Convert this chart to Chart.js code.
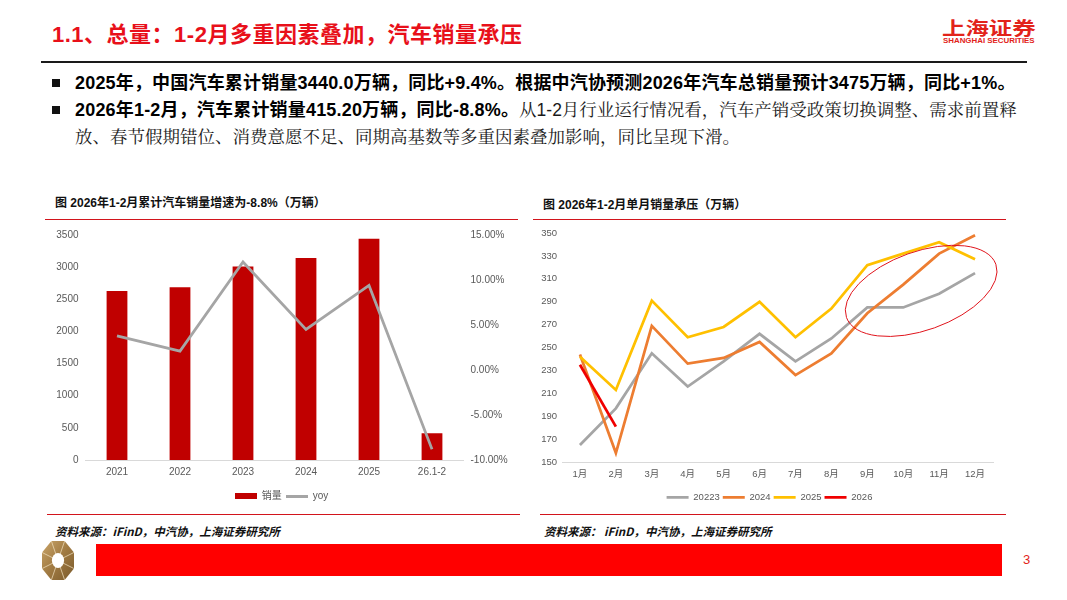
<!DOCTYPE html>
<html>
<head>
<meta charset="utf-8">
<script src="https://cdn.jsdelivr.net/npm/chart.js@4.4.1/dist/chart.umd.min.js"></script>
<style>
html,body{margin:0;padding:0;background:#fff;}
body{width:1067px;height:600px;position:relative;overflow:hidden;font-family:"Liberation Sans","Noto Sans CJK SC",sans-serif;}
.abs{position:absolute;white-space:nowrap;}
#title{left:52px;top:21px;font-size:22px;line-height:28px;font-weight:bold;color:#E8101A;letter-spacing:0.5px;}
#logo{left:942px;top:16px;font-size:18px;line-height:22px;font-weight:bold;color:#E2231A;transform:scaleX(1.3);transform-origin:0 0;font-family:"Noto Sans CJK SC",sans-serif;}
#logoEn{left:943px;top:36px;font-size:7.9px;line-height:9px;font-weight:bold;color:#E2231A;}
#topLine{left:41px;top:61px;width:986px;height:2px;background:#1a1a1a;}
.bullet{position:absolute;left:52px;width:8px;height:8px;background:#111;}
#body{left:75px;top:69.5px;font-size:17.5px;line-height:27px;color:#1a1a1a;font-family:"Liberation Sans","Noto Serif CJK SC","Noto Sans CJK SC",sans-serif;}
#body b{font-size:18px;letter-spacing:0.18px;font-family:"Liberation Sans","Noto Sans CJK SC",sans-serif;font-weight:bold;color:#000;}
.ctitle{position:absolute;font-size:12px;line-height:16px;font-weight:bold;color:#111;white-space:nowrap;font-family:"Liberation Sans","Noto Sans CJK SC",sans-serif;}
.redline{position:absolute;height:1.5px;background:#D2141C;}
.src{position:absolute;font-size:11.5px;line-height:14px;font-style:italic;font-weight:bold;color:#111;white-space:nowrap;font-family:"Noto Sans CJK SC",sans-serif;}
#footBar{left:96px;top:544px;width:906px;height:32px;background:#FF0000;}
#pageNo{left:1023px;top:552px;font-size:13px;line-height:16px;color:#E2231A;}
canvas{position:absolute;}
</style>
</head>
<body>
<div id="title" class="abs">1.1、总量：1-2月多重因素叠加，汽车销量承压</div>
<div id="logo" class="abs">上海证券</div>
<div id="logoEn" class="abs">SHANGHAI SECURITIES</div>
<div id="topLine" class="abs"></div>

<div class="bullet" style="top:79px"></div>
<div class="bullet" style="top:106px"></div>
<div id="body" class="abs"><b>2025年，中国汽车累计销量3440.0万辆，同比+9.4%。根据中汽协预测2026年汽车总销量预计3475万辆，同比+1%。</b><br><b>2026年1-2月，汽车累计销量415.20万辆，同比-8.8%。</b>从1-2月行业运行情况看，汽车产销受政策切换调整、需求前置释<br>放、春节假期错位、消费意愿不足、同期高基数等多重因素叠加影响，同比呈现下滑。</div>

<div class="ctitle" style="left:55px;top:195px;">图 2026年1-2月累计汽车销量增速为-8.8%（万辆）</div>
<div class="ctitle" style="left:543px;top:197px;">图 2026年1-2月单月销量承压（万辆）</div>
<div class="redline" style="left:45px;top:218.5px;width:473px;"></div>
<div class="redline" style="left:533px;top:218.5px;width:473px;"></div>

<canvas id="c1" width="473" height="289" style="left:45px;top:222px;width:473px;height:289px;"></canvas>
<canvas id="c2" width="473" height="290" style="left:533px;top:222px;width:473px;height:290px;"></canvas>

<div class="redline" style="left:47px;top:513.5px;width:473px;"></div>
<div class="redline" style="left:540px;top:513.5px;width:466px;"></div>
<div class="src" style="left:55px;top:523.5px;">资料来源：iFinD，中汽协，上海证券研究所</div>
<div class="src" style="left:544px;top:523.5px;">资料来源： iFinD，中汽协，上海证券研究所</div>

<svg class="abs" style="left:42px;top:540.5px;" width="32" height="39" viewBox="-50 -50 100 100" preserveAspectRatio="none">
  <defs>
    <linearGradient id="gold" x1="0" y1="0" x2="1" y2="1">
      <stop offset="0" stop-color="#C9A468"/>
      <stop offset="0.5" stop-color="#A07A42"/>
      <stop offset="1" stop-color="#7A5A2C"/>
    </linearGradient>
  </defs>
  <polygon points="50,20.7 20.7,50 -20.7,50 -50,20.7 -50,-20.7 -20.7,-50 20.7,-50 50,-20.7" fill="url(#gold)"/>
  <g stroke="#F3E3C2" stroke-width="2.5" opacity="0.8">
    <line x1="0" y1="0" x2="50" y2="20.7"/><line x1="0" y1="0" x2="20.7" y2="50"/>
    <line x1="0" y1="0" x2="-20.7" y2="50"/><line x1="0" y1="0" x2="-50" y2="20.7"/>
    <line x1="0" y1="0" x2="-50" y2="-20.7"/><line x1="0" y1="0" x2="-20.7" y2="-50"/>
    <line x1="0" y1="0" x2="20.7" y2="-50"/><line x1="0" y1="0" x2="50" y2="-20.7"/>
  </g>
  <circle cx="0" cy="0" r="19" fill="#fff"/>
</svg>
<div id="footBar" class="abs"></div>
<div id="pageNo" class="abs">3</div>

<script>
// ---------- data ----------
const yearLabels = ['2021', '2022', '2023', '2024', '2025', '26.1-2'];
const salesValues = [2627.5, 2686.4, 3009.4, 3143.6, 3440.0, 415.2];
const yoyValues = [3.8, 2.1, 12.0, 4.5, 9.4, -8.8];

const monthLabels = ['1月', '2月', '3月', '4月', '5月', '6月', '7月', '8月', '9月', '10月', '11月', '12月'];
const seriesNames = ['20223', '2024', '2025', '2026'];
const sales2023 = [165, 197, 245, 216, 238, 262, 238, 258, 285, 285, 297, 315];
const sales2024 = [244, 158, 269, 236, 241, 255, 226, 245, 280, 305, 332, 348];
const sales2025 = [242, 213, 291, 259, 268, 290, 259, 284, 322, 332, 342, 327];
const sales2026 = [235, 181];

const leftTicks = { min: 0, max: 3500, step: 500 };
const rightTicksPct = { min: -10, max: 15, step: 5 };
const monthTicks = { min: 150, max: 350, step: 20 };

// ---------- styles ----------
const FONT = "'Liberation Sans','Noto Sans CJK SC',sans-serif";
const TXT = '#595959';
Chart.defaults.font.family = FONT;
Chart.defaults.color = TXT;

function swatch(w, h, color) {
  const c = document.createElement('canvas');
  c.width = w; c.height = h;
  const g = c.getContext('2d');
  g.fillStyle = color; g.fillRect(0, 0, w, h);
  return c;
}
const barSwatch = swatch(22, 6, '#C00000');
const lineSwatch = swatch(22, 3, '#A5A5A5');

// ---------- chart 1 ----------
new Chart(document.getElementById('c1'), {
  data: {
    labels: yearLabels,
    datasets: [
      { type: 'bar', label: '销量', data: salesValues, backgroundColor: '#C00000',
        yAxisID: 'y', order: 2, categoryPercentage: 1, barPercentage: 0.33 },
      { type: 'line', label: 'yoy', data: yoyValues, borderColor: '#A5A5A5', backgroundColor: '#A5A5A5',
        borderWidth: 2.75, pointRadius: 0, tension: 0, yAxisID: 'y1', order: 1 }
    ]
  },
  options: {
    responsive: false, animation: false,
    layout: { padding: { top: 10, bottom: 0, left: 0, right: 0 } },
    scales: {
      x: {
        offset: true,
        grid: { display: false, drawTicks: false },
        border: { display: true, color: '#D9D9D9', width: 1 },
        ticks: { color: TXT, font: { size: 10 }, padding: 6, maxRotation: 0 },
        afterFit: s => { s.height = 27; }
      },
      y: {
        position: 'left', min: leftTicks.min, max: leftTicks.max,
        grid: { display: false, drawTicks: false }, border: { display: false },
        ticks: { stepSize: leftTicks.step, color: TXT, font: { size: 10 }, padding: 7,
                 callback: v => String(v) },
        afterFit: s => { s.width = 40.5; }
      },
      y1: {
        position: 'right', min: rightTicksPct.min, max: rightTicksPct.max,
        grid: { display: false, drawTicks: false }, border: { display: false },
        ticks: { stepSize: rightTicksPct.step, color: TXT, font: { size: 10 }, padding: 7,
                 callback: v => v.toFixed(2) + '%' },
        afterFit: s => { s.width = 54.5; }
      }
    },
    plugins: {
      tooltip: { enabled: false },
      legend: {
        position: 'bottom',
        labels: {
          usePointStyle: true, pointStyleWidth: 22, padding: 4, color: TXT, font: { size: 10 },
          sort: (a, b) => a.datasetIndex - b.datasetIndex,
          generateLabels: chart => {
            const items = Chart.defaults.plugins.legend.labels.generateLabels(chart);
            items.forEach(it => { it.pointStyle = it.datasetIndex === 0 ? barSwatch : lineSwatch; });
            return items;
          }
        }
      }
    }
  }
});

// ---------- chart 2 ----------
const highlight = { xIndex: 9.5, yValue: 299.5, rx: 79.3, ry: 39.3, rotationDeg: -19.6, color: '#E0141C', width: 1 };
const ellipsePlugin = {
  id: 'highlightEllipse',
  afterDatasetsDraw(chart) {
    const { ctx, scales } = chart;
    const cx = scales.x.getPixelForValue(highlight.xIndex);
    const cy = scales.y.getPixelForValue(highlight.yValue);
    ctx.save();
    ctx.beginPath();
    ctx.ellipse(cx, cy, highlight.rx, highlight.ry, highlight.rotationDeg * Math.PI / 180, 0, Math.PI * 2);
    ctx.strokeStyle = highlight.color;
    ctx.lineWidth = highlight.width;
    ctx.stroke();
    ctx.restore();
  }
};

const lineStyle = (label, data, color, order) => ({
  type: 'line', label, data, borderColor: color, backgroundColor: color,
  borderWidth: 2.75, pointRadius: 0, tension: 0, order
});

new Chart(document.getElementById('c2'), {
  data: {
    labels: monthLabels,
    datasets: [
      lineStyle(seriesNames[0], sales2023, '#A5A5A5', 4),
      lineStyle(seriesNames[1], sales2024, '#ED7D31', 3),
      lineStyle(seriesNames[2], sales2025, '#FFC000', 2),
      lineStyle(seriesNames[3], sales2026, '#F00000', 1)
    ]
  },
  options: {
    responsive: false, animation: false,
    layout: { padding: { top: 11, bottom: 0, left: 0, right: 0 } },
    scales: {
      x: {
        offset: true,
        grid: { display: false, drawTicks: false },
        border: { display: true, color: '#D9D9D9', width: 1 },
        ticks: { color: TXT, font: { size: 9.5 }, padding: 6, maxRotation: 0, autoSkip: false },
        afterFit: s => { s.height = 27.3; }
      },
      y: {
        position: 'left', min: monthTicks.min, max: monthTicks.max,
        grid: { display: false, drawTicks: false }, border: { display: false },
        ticks: { stepSize: monthTicks.step, color: TXT, font: { size: 9.5 }, padding: 5 },
        afterFit: s => { s.width = 29; }
      },
      yPad: {
        position: 'right', display: true,
        grid: { display: false, drawTicks: false }, border: { display: false },
        ticks: { display: false },
        afterFit: s => { s.width = 13; }
      }
    },
    plugins: {
      tooltip: { enabled: false },
      legend: {
        position: 'bottom',
        labels: {
          usePointStyle: true, pointStyle: 'line', pointStyleWidth: 22, padding: 3,
          color: TXT, font: { size: 9.5 },
          sort: (a, b) => a.datasetIndex - b.datasetIndex
        }
      }
    }
  },
  plugins: [ellipsePlugin]
});
</script>
</body>
</html>
